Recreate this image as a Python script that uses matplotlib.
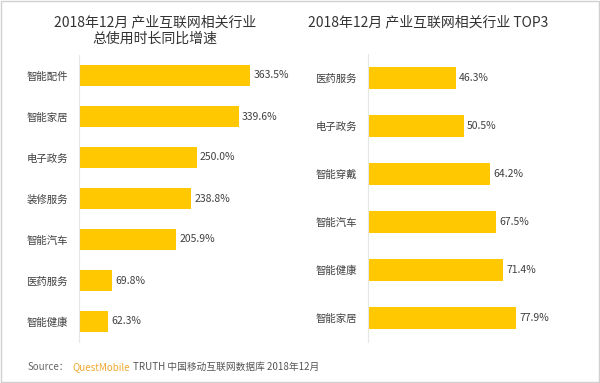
import matplotlib.pyplot as plt
from matplotlib.patches import Rectangle

plt.rcParams['font.family'] = ['Noto Sans CJK SC', 'DejaVu Sans']

left_cats = ['智能配件', '智能家居', '电子政务', '装修服务', '智能汽车', '医药服务', '智能健康']
left_vals = [363.5, 339.6, 250.0, 238.8, 205.9, 69.8, 62.3]

right_cats = ['医药服务', '电子政务', '智能穿戴', '智能汽车', '智能健康', '智能家居']
right_vals = [46.3, 50.5, 64.2, 67.5, 71.4, 77.9]

YELLOW = '#FFC800'
TEXT = '#404040'

fig = plt.figure(figsize=(6, 3.83), dpi=100)
fig.patch.set_facecolor('white')


def panel(rect, cats, vals, xmax, height):
    ax = fig.add_axes(rect)
    ax.set_facecolor('none')
    y = range(len(cats))
    ax.barh(y, vals, height=height, color=YELLOW, zorder=2)
    for yi, v in zip(y, vals):
        ax.text(v + xmax * 0.015, yi, f'{v:.1f}%', va='center', ha='left',
                fontsize=7.5, color=TEXT)
    ax.set_yticks(list(y))
    ax.set_yticklabels(cats, fontsize=7.5, color=TEXT)
    ax.set_ylim(len(cats) - 0.5, -0.5)
    ax.set_xlim(0, xmax)
    ax.set_xticks([])
    for s in ['top', 'right', 'bottom']:
        ax.spines[s].set_visible(False)
    ax.spines['left'].set_color('#e6e6e6')
    ax.tick_params(axis='y', length=0, pad=8)
    return ax


panel([79 / 600, 1 - 342 / 383, 221 / 600, 287 / 383], left_cats, left_vals, 470, 0.5)
panel([368 / 600, 1 - 342 / 383, 222 / 600, 288 / 383], right_cats, right_vals, 117, 0.45)

fig.text(155 / 600, 0.96, '2018年12月 产业互联网相关行业\n总使用时长同比增速', ha='center', va='top',
         fontsize=10, color='#333333', linespacing=1.25)
fig.text(428 / 600, 0.96, '2018年12月 产业互联网相关行业 TOP3', ha='center', va='top',
         fontsize=10, color='#333333')

fig.text(28 / 600, 1 - 367 / 383, 'Source：', fontsize=7, color='#666666', va='center')
fig.text(72 / 600, 1 - 367 / 383, 'QuestMobile', fontsize=7, color='#F0A830', va='center')
fig.text(133 / 600, 1 - 367 / 383, 'TRUTH 中国移动互联网数据库 2018年12月', fontsize=7,
         color='#555555', va='center')

fig.patches.append(Rectangle((0.001, 0.002), 0.997, 0.996, transform=fig.transFigure,
                             fill=False, edgecolor='#d0d0d0', linewidth=1))

fig.savefig('out.png', dpi=100)
